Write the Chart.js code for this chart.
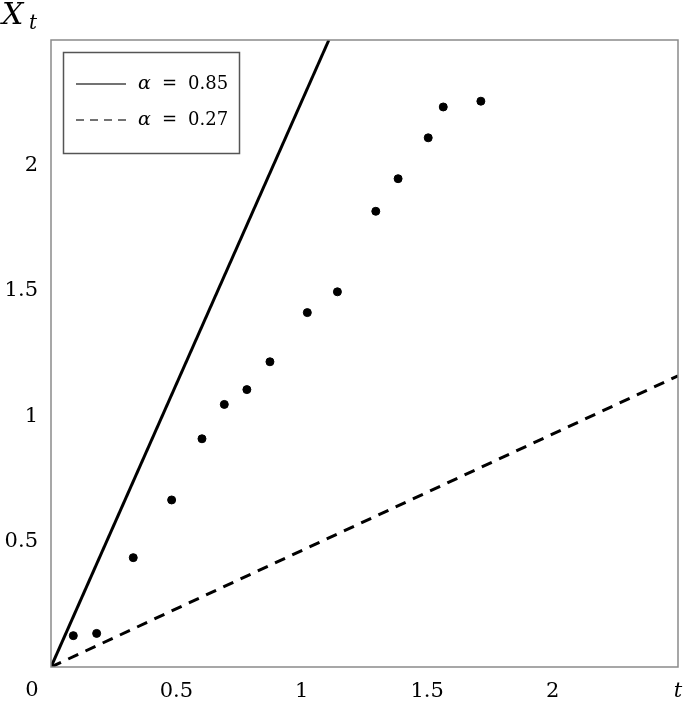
<!DOCTYPE html>
<html>
<head>
<meta charset="utf-8">
<script src="https://cdn.jsdelivr.net/npm/chart.js@4"></script>
<style>
  html, body { margin: 0; padding: 0; background: #fff; }
  #wrap { width: 685px; height: 706px; position: relative; }
</style>
</head>
<body>
<div id="wrap"><canvas id="chart"></canvas></div>
<script>
// observed points (t, X_t)
const obsT = [0, 0.089, 0.182, 0.328, 0.481, 0.602, 0.691, 0.781, 0.873, 1.022, 1.142, 1.295, 1.384, 1.504, 1.564, 1.714];
const obsX = [0, 0.125, 0.134, 0.436, 0.666, 0.910, 1.047, 1.106, 1.217, 1.413, 1.496, 1.817, 1.947, 2.110, 2.233, 2.256];

// reference lines
const solidT = [0, 1.108];
const solidX = [0, 2.5];
const dashedT = [0, 2.5];
const dashedX = [0, 1.161];

const legendLabels = ['0.85', '0.27'];
const xTicks = [0.5, 1, 1.5, 2, 2.5];
const yTicks = [0.5, 1, 1.5, 2];

const FONT = '"DejaVu Serif", "Liberation Serif", serif';

function pairs(xs, ys) {
  return xs.map((x, i) => ({ x: x, y: ys[i] }));
}

const frameAndLegend = {
  id: 'frameAndLegend',
  afterDraw(chart) {
    const ctx = chart.ctx;
    const a = chart.chartArea;
    ctx.save();
    ctx.strokeStyle = '#8a8a8a';
    ctx.lineWidth = 1.5;
    ctx.strokeRect(a.left, a.top, a.right - a.left, a.bottom - a.top);

    // legend box
    ctx.strokeStyle = '#555';
    ctx.lineWidth = 1.5;
    ctx.strokeRect(63.5, 52.5, 176, 101);
    const rows = [84, 120];
    ctx.fillStyle = '#000';
    ctx.textBaseline = 'middle';
    rows.forEach((y, i) => {
      ctx.strokeStyle = '#444';
      ctx.lineWidth = 1.5;
      ctx.setLineDash(i === 0 ? [] : [8, 6]);
      ctx.beginPath();
      ctx.moveTo(76, y);
      ctx.lineTo(126, y);
      ctx.stroke();
      ctx.setLineDash([]);
      ctx.textAlign = 'left';
      ctx.font = 'italic 19px ' + FONT;
      ctx.fillText('\u03b1', 138, y);
      ctx.font = '18px ' + FONT;
      ctx.fillText('=', 162, y);
      ctx.fillText(legendLabels[i], 188, y);
    });

    // axis names
    ctx.textAlign = 'left';
    ctx.textBaseline = 'alphabetic';
    ctx.font = 'italic 30px ' + FONT;
    ctx.fillText('X', 2, 24);
    ctx.font = 'italic 20px ' + FONT;
    ctx.fillText('t', 29, 29);
    ctx.font = '21px ' + FONT;
    ctx.textAlign = 'center';
    ctx.textBaseline = 'middle';
    ctx.fillText('0', 32, 691);
    ctx.restore();
  }
};

new Chart(document.getElementById('chart'), {
  type: 'scatter',
  data: {
    datasets: [
      {
        label: 'obs',
        data: pairs(obsT, obsX),
        backgroundColor: '#000',
        borderColor: '#000',
        pointRadius: 4,
        showLine: false
      },
      {
        label: 'alpha = 0.85',
        data: pairs(solidT, solidX),
        borderColor: '#000',
        borderWidth: 3,
        pointRadius: 0,
        showLine: true
      },
      {
        label: 'alpha = 0.27',
        data: pairs(dashedT, dashedX),
        borderColor: '#000',
        borderWidth: 3,
        borderDash: [11, 8],
        pointRadius: 0,
        showLine: true
      }
    ]
  },
  options: {
    responsive: true,
    maintainAspectRatio: false,
    animation: false,
    layout: { padding: { top: 40, right: 7, left: 0, bottom: 0 } },
    plugins: {
      legend: { display: false },
      tooltip: { enabled: false }
    },
    scales: {
      x: {
        type: 'linear',
        min: 0,
        max: 2.5,
        grid: { display: false, drawTicks: false },
        border: { display: false },
        afterBuildTicks: s => { s.ticks = xTicks.map(v => ({ value: v })); },
        afterFit: s => { s.height = 39; s.paddingLeft = 0; s.paddingRight = 0; },
        ticks: {
          color: '#000',
          padding: 12,
          maxRotation: 0,
          callback: v => v === 2.5 ? 't' : String(v),
          font: c => ({
            family: FONT,
            size: 21,
            style: c.tick && c.tick.value === 2.5 ? 'italic' : 'normal'
          })
        }
      },
      y: {
        type: 'linear',
        min: 0,
        max: 2.5,
        grid: { display: false, drawTicks: false },
        border: { display: false },
        afterBuildTicks: s => { s.ticks = yTicks.map(v => ({ value: v })); },
        afterFit: s => { s.width = 51; s.paddingTop = 0; s.paddingBottom = 0; },
        ticks: {
          color: '#000',
          padding: 13,
          callback: v => String(v),
          font: { family: FONT, size: 21 }
        }
      }
    }
  },
  plugins: [frameAndLegend]
});
</script>
</body>
</html>
